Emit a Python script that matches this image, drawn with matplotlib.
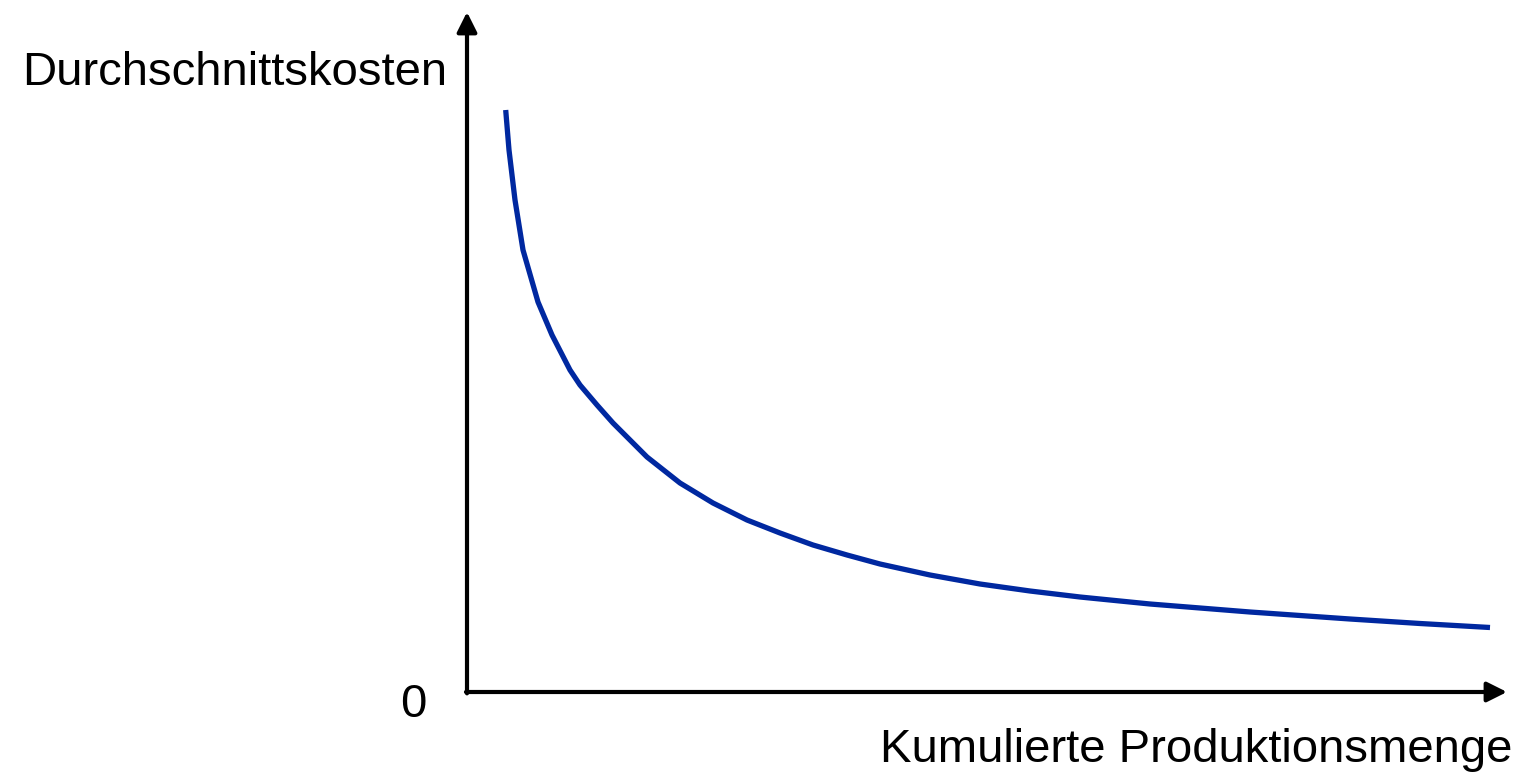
import matplotlib
matplotlib.use("Agg")
import matplotlib.pyplot as plt

plt.rcParams["font.family"] = ["Liberation Sans", "DejaVu Sans"]

# Durchschnittskosten vs. kumulierte Menge (Erfahrungskurve)
menge = [0.387, 0.42, 0.48, 0.56, 0.71, 0.85, 1.03, 1.13, 1.30, 1.46,
         1.80, 2.13, 2.46, 2.80, 3.13, 3.46, 3.80, 4.13, 4.63, 5.13,
         5.63, 6.13, 6.83, 7.83, 8.83, 9.53, 10.23]
kosten = [5.82, 5.42, 4.92, 4.42, 3.90, 3.57, 3.22, 3.07, 2.87, 2.69,
          2.35, 2.09, 1.89, 1.72, 1.59, 1.47, 1.37, 1.28, 1.17, 1.08,
          1.01, 0.95, 0.88, 0.80, 0.73, 0.685, 0.645]

W, H = 1524, 774
fig = plt.figure(figsize=(W / 100, H / 100), dpi=100)
fig.patch.set_facecolor("white")

x0, y0, x1, y1 = 467, 692, 1507, 12
ax = fig.add_axes([x0 / W, (H - y0) / H, (x1 - x0) / W, (y0 - y1) / H])
ax.set_xlim(0, 10.4)
ax.set_ylim(0, 6.8)
ax.set_axis_off()

ax.plot(menge, kosten, color="#0028a0", linewidth=3.8,
        solid_capstyle="butt", solid_joinstyle="round")

arrow = dict(arrowstyle="-|>,head_length=0.6,head_width=0.3", color="black",
             linewidth=3.0, shrinkA=0, shrinkB=0, mutation_scale=20)
ax.annotate("", xy=(0, 1), xytext=(0, -0.002), xycoords="axes fraction",
            arrowprops=arrow, annotation_clip=False)
ax.annotate("", xy=(1, 0), xytext=(-0.001, 0), xycoords="axes fraction",
            arrowprops=arrow, annotation_clip=False)

fig.text(447 / W, 1 - 85 / H, "Durchschnittskosten", fontsize=34,
         ha="right", va="baseline")
fig.text(413 / W, 1 - 717 / H, "0", fontsize=34, ha="center", va="baseline")
fig.text(1512 / W, 1 - 762 / H, "Kumulierte Produktionsmenge", fontsize=34,
         ha="right", va="baseline")

fig.savefig("out.png", dpi=100, facecolor="white")
